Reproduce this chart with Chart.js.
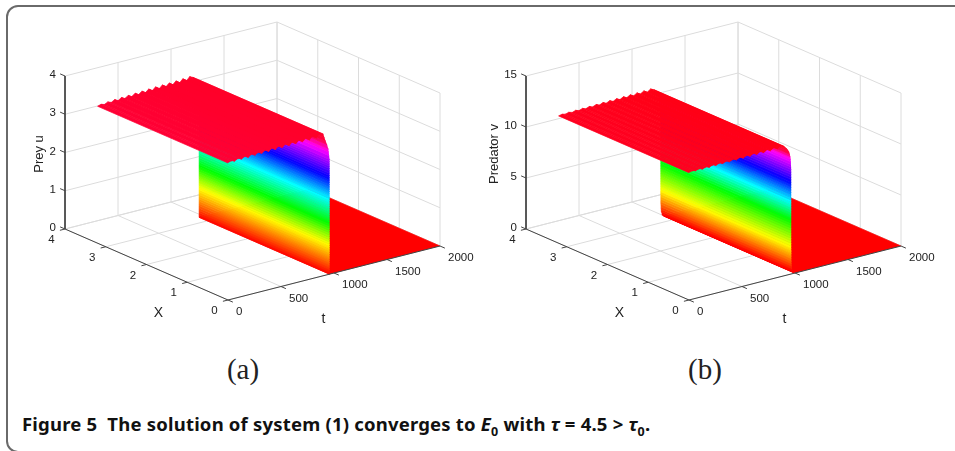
<!DOCTYPE html>
<html>
<head>
<meta charset="utf-8">
<script src="https://cdn.jsdelivr.net/npm/chart.js@4"></script>
<style>
html, body { margin: 0; padding: 0; width: 955px; height: 451px; overflow: hidden; background: #fff; }
#frame { position: absolute; left: 6px; top: 5px; width: 1100px; height: 448px; box-sizing: border-box; border: 2px solid #6a6a6a; border-radius: 12px; }
canvas { position: absolute; top: 0; }
#chartA { left: 0; }
#chartB { left: 461px; }
.panel { position: absolute; top: 353px; font: 29px "Liberation Serif", serif; color: #222; width: 60px; text-align: center; }
#caption { position: absolute; left: 22px; top: 411px; white-space: nowrap; font: bold 18.5px "Noto Sans", sans-serif; color: #111; letter-spacing: 0.2px; }
#caption sub { font-size: 12.5px; line-height: 0; }
</style>
</head>
<body>
<div id="frame"></div>
<canvas id="chartA" width="480" height="345"></canvas>
<canvas id="chartB" width="494" height="345"></canvas>
<div class="panel" style="left:213px">(a)</div>
<div class="panel" style="left:675px">(b)</div>
<div id="caption">Figure 5&nbsp; The solution of system (1) converges to <i>E</i><sub>0</sub> with <i>τ</i> = 4.5 &gt; <i>τ</i><sub>0</sub>.</div>
<script>
const tTicks = [0, 500, 1000, 1500, 2000];
const xTicks = [0, 1, 2, 3, 4];
const uTicks = [0, 1, 2, 3, 4];
const vTicks = [0, 5, 10, 15];

const xEnd = 3.2; // the surface stops short of the x axis end

// plateau rows, one tooth is two rows
const plateauT = [0, 32, 64, 96, 129, 161, 193, 225, 257, 289, 321, 354, 386, 418, 450, 482, 514, 546, 579, 611, 643, 675, 707, 739, 771, 804, 836, 868, 900];
const plateauU = [3.58, 3.61, 3.58, 3.625, 3.59, 3.64, 3.59, 3.65, 3.6, 3.66, 3.605, 3.67, 3.61, 3.68, 3.615, 3.69, 3.62, 3.7, 3.625, 3.705, 3.63, 3.71, 3.635, 3.72, 3.64, 3.73, 3.645, 3.74, 3.7];
const plateauV = [12.48, 12.56, 12.48, 12.58, 12.48, 12.6, 12.49, 12.62, 12.5, 12.64, 12.51, 12.66, 12.52, 12.68, 12.53, 12.7, 12.54, 12.72, 12.55, 12.74, 12.56, 12.76, 12.57, 12.78, 12.58, 12.8, 12.59, 12.82, 12.66];

// the front going down at about t = 950
const wallU = [0, 0.06, 0.12, 0.18, 0.24, 0.3, 0.36, 0.42, 0.48, 0.54, 0.6, 0.66, 0.72, 0.78, 0.84, 0.9, 0.96, 1.02, 1.08, 1.14, 1.2, 1.26, 1.32, 1.38, 1.44, 1.5, 1.56, 1.62, 1.68, 1.74, 1.8, 1.86, 1.92, 1.98, 2.04, 2.1, 2.16, 2.22, 2.28, 2.34, 2.4, 2.46, 2.52, 2.58, 2.64, 2.7, 2.76, 2.82, 2.88, 2.94, 3.0, 3.1, 3.2, 3.28, 3.4, 3.5, 3.6, 3.7];
const wallUT = [958, 958, 958, 958, 958, 958, 958, 958, 958, 958, 958, 958, 958, 958, 958, 958, 958, 958, 958, 958, 958, 958, 958, 958, 958, 958, 958, 958, 958, 958, 958, 958, 958, 958, 958, 958, 958, 958, 958, 958, 958, 958, 958, 958, 958, 958, 958, 958, 958, 958, 958, 954, 950, 947, 935, 922, 910, 900];
const wallV = [0, 0.05, 0.15, 0.3, 0.5, 0.75, 1, 1.25, 1.5, 1.75, 2, 2.25, 2.5, 2.75, 3, 3.25, 3.5, 3.75, 4, 4.25, 4.5, 4.75, 5, 5.25, 5.5, 5.75, 6, 6.25, 6.5, 6.75, 7, 7.25, 7.5, 7.75, 8, 8.25, 8.5, 8.75, 9, 9.25, 9.5, 9.75, 10, 10.25, 10.5, 10.75, 11, 11.25, 11.5, 11.75, 12, 12.2, 12.4, 12.66];
const wallVT = [1000, 990, 982, 976, 972, 969, 967, 966, 965, 965, 965, 965, 964, 964, 964, 964, 964, 964, 964, 964, 964, 964, 964, 964, 964, 964, 964, 964, 964, 964, 964, 964, 964, 964, 964, 964, 964, 964, 964, 964, 964, 964, 964, 964, 963, 962, 961, 959, 956, 952, 945, 935, 922, 900];

// hsv colormap
const hueDegrees = [0, 60, 120, 180, 240, 300, 345, 356];
const hueLevelsU = [0, 0.77, 1.34, 1.95, 2.52, 3.2, 3.5, 3.9];
const hueLevelsV = [0.3, 2.7, 5.3, 7.1, 9, 11.3, 11.9, 12.8];

const axisColor = "#444";
const gridColor = "#dcdcdc";
const textColor = "#222";

function hueColor(z, levels) {
    let i = 0;
    while (i < levels.length - 2 && z > levels[i + 1]) i++;
    let f = (z - levels[i]) / (levels[i + 1] - levels[i]);
    f = Math.max(0, Math.min(1, f));
    return "hsl(" + (hueDegrees[i] + f * (hueDegrees[i + 1] - hueDegrees[i])) % 360 + ",100%,50%)";
}

function drawPanel(id, cfg) {
    const canvas = document.getElementById(id);
    const tMax = 2000, xMax = 4;
    const zMax = cfg.zTicks[cfg.zTicks.length - 1];

    // fixed matlab view, the three box edges as seen on screen
    function project(t, x, z) {
        const a = t / tMax, b = (xMax - x) / xMax;
        return { x: 65 + a * 212 + b * 163, y: 229 + b * 71 - a * 54 - z / zMax * 153 };
    }

    function line(points, color, width) {
        return { data: points, showLine: true, borderColor: color, borderWidth: width, pointRadius: 0, fill: false, tension: 0 };
    }
    function row(t1, z1, t2, z2) {
        const color = hueColor((z1 + z2) / 2, cfg.hueLevels);
        return {
            data: [project(t1, 0, z1), project(t1, xEnd, z1), project(t2, xEnd, z2), project(t2, 0, z2)],
            showLine: true, fill: "shape", backgroundColor: color, borderColor: color, borderWidth: 0.7, pointRadius: 0, tension: 0
        };
    }

    const sets = []; // painter's order, reversed at the end
    cfg.zTicks.forEach(z => {
        sets.push(line([project(0, xMax, z), project(tMax, xMax, z), project(tMax, 0, z)], gridColor, 1));
    });
    tTicks.forEach(t => {
        sets.push(line([project(t, 0, 0), project(t, xMax, 0), project(t, xMax, zMax)], gridColor, 1));
    });
    xTicks.forEach(x => {
        sets.push(line([project(0, x, 0), project(tMax, x, 0), project(tMax, x, zMax)], gridColor, 1));
    });

    // floor behind the wall
    sets.push(row(cfg.wallT[0], 0, tMax, 0));
    for (let i = 0; i < cfg.wallZ.length - 1; i++) {
        sets.push(row(cfg.wallT[i], cfg.wallZ[i], cfg.wallT[i + 1], cfg.wallZ[i + 1]));
    }
    for (let i = plateauT.length - 2; i >= 0; i--) {
        sets.push(row(plateauT[i], cfg.plateau[i], plateauT[i + 1], cfg.plateau[i + 1]));
    }

    // axes and tick marks
    sets.push(line([project(0, xMax, zMax), project(0, xMax, 0), project(0, 0, 0), project(tMax, 0, 0)], axisColor, 1));
    cfg.zTicks.forEach(z => sets.push(line([project(0, xMax, z), project(0, xMax + 0.12, z)], axisColor, 1)));
    xTicks.forEach(x => sets.push(line([project(0, x, 0), project(-48, x, 0)], axisColor, 1)));
    tTicks.forEach(t => sets.push(line([project(t, 0, 0), project(t, -0.12, 0)], axisColor, 1)));

    const axisText = {
        id: "axisText",
        afterDatasetsDraw(chart) {
            const ctx = chart.ctx;
            const sx = chart.scales.x, sy = chart.scales.y;
            function put(text, p, dx, dy, align, font) {
                ctx.font = font;
                ctx.textAlign = align;
                ctx.textBaseline = "middle";
                ctx.fillStyle = textColor;
                ctx.fillText(text, sx.getPixelForValue(p.x) + dx, sy.getPixelForValue(p.y) + dy);
            }
            const tickFont = '11.5px "Liberation Sans"';
            const titleFont = '13px "Liberation Sans"';
            ctx.save();
            cfg.zTicks.forEach(z => put(String(z), project(0, xMax, z), -9, -1, "right", tickFont));
            xTicks.forEach(x => put(String(x), project(0, x, 0), -13.5, 11, "center", tickFont));
            tTicks.forEach(t => put(String(t), project(t, 0, 0), 8, 12, "left", tickFont));
            put("X", project(0, 2, 0), 12, 48.5, "center", '14px "Liberation Sans"');
            put("t", project(1000, 0, 0), -10.5, 46, "center", '14px "Liberation Sans"');

            const a = project(0, xMax, zMax / 2);
            ctx.translate(sx.getPixelForValue(a.x) + cfg.titleOffset, sy.getPixelForValue(a.y) + 1.5);
            ctx.rotate(-Math.PI / 2);
            ctx.font = titleFont;
            ctx.textAlign = "center";
            ctx.textBaseline = "middle";
            ctx.fillStyle = textColor;
            ctx.fillText(cfg.title, 0, 0);
            ctx.restore();
        }
    };

    new Chart(canvas, {
        type: "scatter",
        data: { datasets: sets.reverse() },
        options: {
            responsive: false,
            animation: false,
            events: [],
            layout: { padding: 0 },
            plugins: { legend: { display: false }, tooltip: { enabled: false } },
            scales: {
                x: { type: "linear", display: false, min: 0, max: canvas.width },
                y: { type: "linear", display: false, min: 0, max: canvas.height, reverse: true }
            }
        },
        plugins: [axisText]
    });
}

drawPanel("chartA", { zTicks: uTicks, plateau: plateauU, wallZ: wallU, wallT: wallUT, hueLevels: hueLevelsU, title: "Prey u", titleOffset: -26 });
drawPanel("chartB", { zTicks: vTicks, plateau: plateauV, wallZ: wallV, wallT: wallVT, hueLevels: hueLevelsV, title: "Predator v", titleOffset: -32 });
</script>
</body>
</html>
